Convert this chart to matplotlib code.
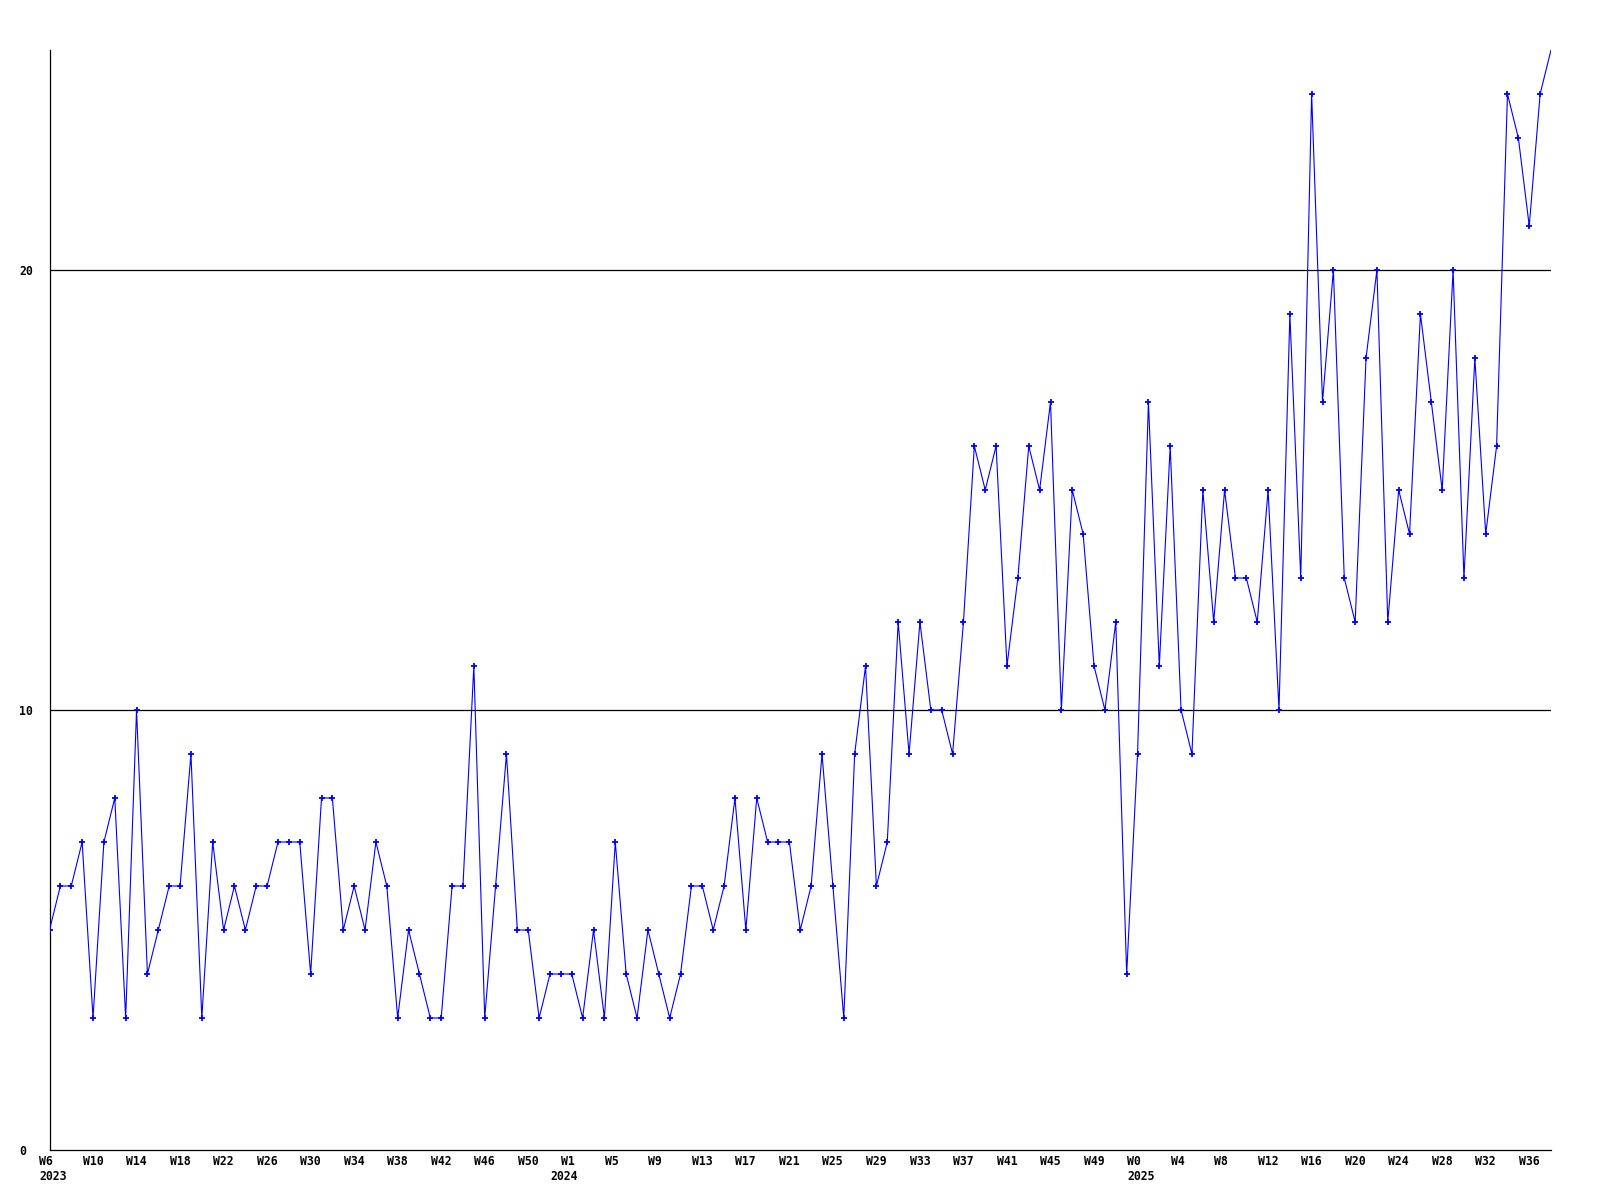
import numpy as np
import matplotlib.pyplot as plt
import matplotlib.transforms as mtransforms

# weekly counts, 2023 W6 .. 2025 W37
counts = [5, 6, 6, 7, 3, 7, 8, 3, 10, 4, 5, 6, 6, 9, 3, 7, 5, 6, 5, 6,
          6, 7, 7, 7, 4, 8, 8, 5, 6, 5, 7, 6, 3, 5, 4, 3, 3, 6, 6, 11,
          3, 6, 9, 5, 5, 3, 4, 4, 4, 3, 5, 3, 7, 4, 3, 5, 4, 3, 4, 6,
          6, 5, 6, 8, 5, 8, 7, 7, 7, 5, 6, 9, 6, 3, 9, 11, 6, 7, 12, 9,
          12, 10, 10, 9, 12, 16, 15, 16, 11, 13, 16, 15, 17, 10, 15, 14, 11, 10, 12, 4,
          9, 17, 11, 16, 10, 9, 15, 12, 15, 13, 13, 12, 15, 10, 19, 13, 24, 17, 20, 13,
          12, 18, 20, 12, 15, 14, 19, 17, 15, 20, 13, 18, 14, 16, 24, 23, 21, 24, 25]

week_labels = ["W6", "W10", "W14", "W18", "W22", "W26", "W30", "W34", "W38", "W42", "W46", "W50",
               "W1", "W5", "W9", "W13", "W17", "W21", "W25", "W29", "W33", "W37", "W41", "W45", "W49",
               "W0", "W4", "W8", "W12", "W16", "W20", "W24", "W28", "W32", "W36"]
years = ["2023", "2024", "2025"]
year_start = [0, 47, 100]   # index of first week shown for each year

y_ticks = [0, 10, 20]

font = dict(family="DejaVu Sans Mono", weight="bold", size=8.3)

fig = plt.figure(figsize=(16, 12), dpi=100)
ax = fig.add_axes([49.5 / 1600, 1 - 1150 / 1200, (1551 - 49.5) / 1600, 1100 / 1200])

x = np.arange(len(counts))
# last week runs off the top edge, its marker is not shown
ax.plot(x, counts, color="#0000ff", lw=0.8, marker="+", ms=3.8, mew=1.3,
        markevery=slice(0, len(counts) - 1), zorder=3)

ax.set_xlim(0, len(counts) - 1)
ax.set_ylim(0, 25)

for v in y_ticks[1:]:
    ax.axhline(v, color="black", lw=0.9, zorder=1)

for s in ["top", "right"]:
    ax.spines[s].set_visible(False)
ax.spines["left"].set_linewidth(0.9)
ax.spines["bottom"].set_linewidth(0.9)

ax.set_yticks(y_ticks)
ax.set_yticklabels([str(v) for v in y_ticks], **font)
ax.tick_params(axis="y", length=0, pad=22)
for lab in ax.get_yticklabels():
    lab.set_horizontalalignment("left")

ax.set_xticks(np.arange(0, len(counts), 4)[:len(week_labels)])
ax.set_xticklabels(week_labels, **font)
ax.tick_params(axis="x", length=0, pad=3.5)
shift = mtransforms.ScaledTranslation(-10.4 / 100, 0, fig.dpi_scale_trans)
for lab in ax.get_xticklabels():
    lab.set_horizontalalignment("left")
    lab.set_transform(lab.get_transform() + shift)

year_tr = mtransforms.blended_transform_factory(ax.transData, fig.transFigure) + shift
for yr, i in zip(years, year_start):
    fig.text(i, 1 - 1177 / 1200, yr, transform=year_tr, ha="left", va="center", **font)

fig.savefig("out.png", dpi=100, facecolor="white")
